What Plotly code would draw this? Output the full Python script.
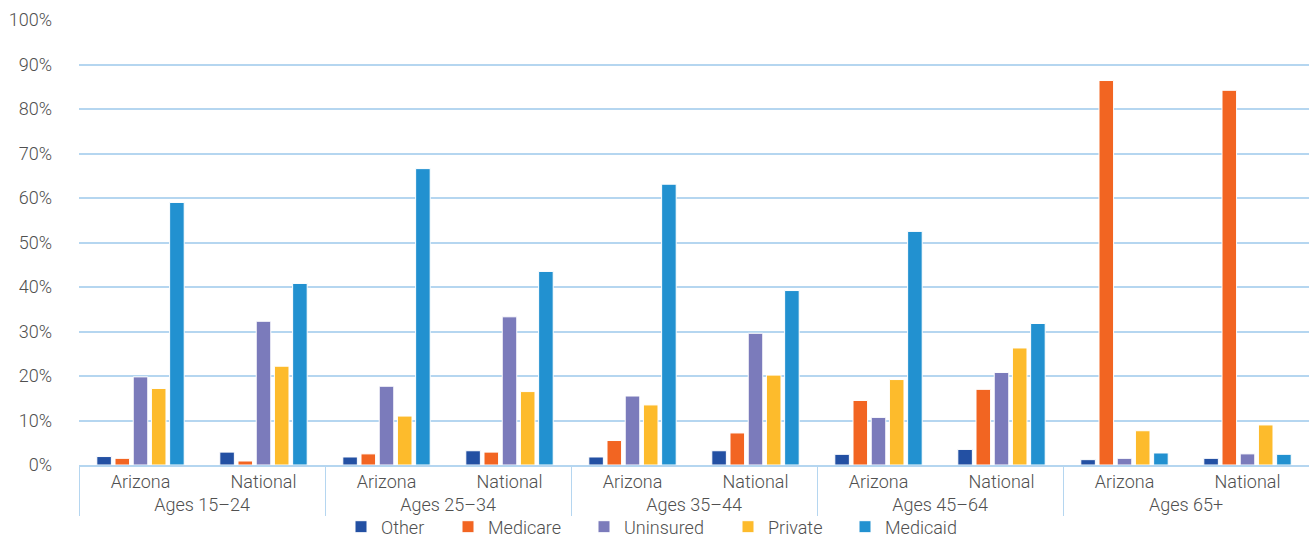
import plotly.graph_objects as go

age_groups = ["Ages 15–24", "Ages 25–34", "Ages 35–44", "Ages 45–64", "Ages 65+"]
regions = ["Arizona", "National"]

series_names = ["Other", "Medicare", "Uninsured", "Private", "Medicaid"]
colors = ["#2350A3", "#F26522", "#7B7BBB", "#FDBB2C", "#2291D0"]

# values in percent, order: AZ 15-24, Nat 15-24, AZ 25-34, Nat 25-34, ...
other = [1.9, 2.9, 1.8, 3.2, 1.8, 3.2, 2.4, 3.5, 1.2, 1.5]
medicare = [1.5, 0.9, 2.5, 2.9, 5.5, 7.2, 14.5, 17.0, 86.4, 84.2]
uninsured = [19.8, 32.3, 17.7, 33.3, 15.5, 29.6, 10.7, 20.8, 1.5, 2.5]
private = [17.2, 22.2, 11.0, 16.5, 13.5, 20.2, 19.2, 26.3, 7.7, 9.0]
medicaid = [59.0, 40.8, 66.6, 43.5, 63.1, 39.2, 52.5, 31.8, 2.7, 2.4]

series_values = [other, medicare, uninsured, private, medicaid]

x_outer = [g for g in age_groups for _ in regions]
x_inner = [r for _ in age_groups for r in regions]

W, H = 1309, 539
font_family = "Roboto, 'Open Sans', sans-serif"
txt = dict(family=font_family, size=18, color="#505050", weight=300)

# legend entry text start positions (px) in the reference
legend_text_x = [381, 488, 624, 768, 885]

fig = go.Figure()
legend_layout = {}
for i, (name, vals, col) in enumerate(zip(series_names, series_values, colors)):
    lname = "legend" if i == 0 else f"legend{i + 1}"
    fig.add_trace(go.Bar(
        x=[x_outer, x_inner],
        y=[v / 100 for v in vals],
        name=name,
        legend=lname,
        showlegend=True,
        marker=dict(color=col, line=dict(color="white", width=1)),
    ))
    legend_layout[lname] = dict(
        orientation="h", xref="container", x=(legend_text_x[i] - 40) / W, xanchor="left",
        yref="container", y=(H - 527) / H, yanchor="middle",
        font=txt, bgcolor="rgba(0,0,0,0)", borderwidth=0,
        entrywidth=120, entrywidthmode="pixels", visible=True,
    )

fig.update_layout(
    width=W, height=H,
    showlegend=True,
    margin=dict(l=79, r=0, t=20, b=74),
    paper_bgcolor="white", plot_bgcolor="white",
    barmode="group", bargap=0.26, bargroupgap=0.2,
    font=txt,
    yaxis=dict(range=[0, 1.0], tickformat=".0%", dtick=0.1, showgrid=True,
               gridcolor="#B5D6F0", gridwidth=1.5, zeroline=False, showline=False,
               ticks="", ticklabelstandoff=26, tickfont=txt, automargin=False),
    xaxis=dict(type="multicategory", showline=True, linecolor="#B5D6F0", linewidth=1.5,
               showdividers=True, dividercolor="#B5D6F0", dividerwidth=1,
               tickfont=txt, ticks="", automargin=False),
    **legend_layout,
)

fig.write_html("out.html")
